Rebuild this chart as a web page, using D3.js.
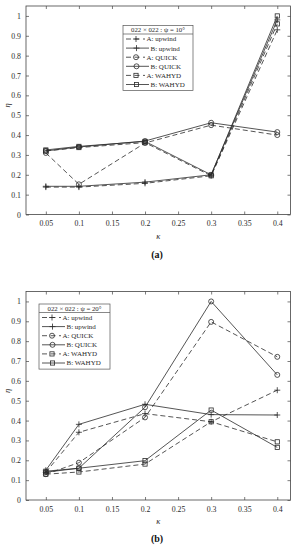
<!DOCTYPE html>
<html><head><meta charset="utf-8">
<script src="https://cdn.jsdelivr.net/npm/d3@7"></script>
<style>body{margin:0;background:#fff}svg{display:block}</style>
</head><body>
<svg id="c" width="297" height="550"></svg>
<script>
const kappa = [0.05, 0.1, 0.2, 0.3, 0.4];
const xTicks = [0.05, 0.1, 0.15, 0.2, 0.25, 0.3, 0.35, 0.4];
const yTicks = [0, 0.1, 0.2, 0.3, 0.4, 0.5, 0.6, 0.7, 0.8, 0.9, 1];
const seriesNames = ["A: upwind", "B: upwind", "A: QUICK", "B: QUICK", "A: WAHYD", "B: WAHYD"];
const seriesMarkers = ["plus", "plus", "circle", "circle", "square", "square"];
const seriesDashed = [true, false, true, false, true, false];

// panel (a): psi = 10°
const a_upA = [0.138, 0.138, 0.157, 0.195, 0.93];
const a_upB = [0.142, 0.142, 0.163, 0.2, 0.98];
const a_quA = [0.31, 0.152, 0.36, 0.45, 0.40];
const a_quB = [0.32, 0.34, 0.37, 0.462, 0.415];
const a_waA = [0.32, 0.337, 0.362, 0.195, 0.96];
const a_waB = [0.325, 0.343, 0.368, 0.2, 1.0];

// panel (b): psi = 20°
const b_upA = [0.14, 0.341, 0.435, 0.394, 0.553];
const b_upB = [0.15, 0.381, 0.482, 0.43, 0.428];
const b_quA = [0.13, 0.188, 0.416, 0.897, 0.721];
const b_quB = [0.14, 0.16, 0.467, 1.0, 0.63];
const b_waA = [0.13, 0.141, 0.181, 0.394, 0.293];
const b_waB = [0.145, 0.16, 0.198, 0.453, 0.265];

const titleA = "022 × 022 : ψ = 10°";
const titleB = "022 × 022 : ψ = 20°";

const svg = d3.select("#c");
const FONT = "'Liberation Serif','DejaVu Serif',serif";
const INK = "#2a2a2a";

function drawPanel(cfg) {
  const g = svg.append("g");
  const x = d3.scaleLinear().domain([0.02, 0.42]).range([cfg.left, cfg.right]);
  const y = d3.scaleLinear().domain([0, 1.05]).range([cfg.bottom, cfg.top]);

  g.append("rect").attr("x", cfg.left).attr("y", cfg.top)
    .attr("width", cfg.right - cfg.left).attr("height", cfg.bottom - cfg.top)
    .attr("fill", "none").attr("stroke", "#444").attr("stroke-width", 0.8);

  const fmt = d => d === 0 ? "0" : d === 1 ? "1" : String(d);
  const xb = d3.axisBottom(x).tickValues(xTicks).tickSize(-3).tickPadding(6).tickFormat(fmt);
  const xt = d3.axisTop(x).tickValues(xTicks).tickSize(-3).tickFormat("");
  const yl = d3.axisLeft(y).tickValues(yTicks).tickSize(-3).tickPadding(5).tickFormat(fmt);
  const yr = d3.axisRight(y).tickValues(yTicks).tickSize(-3).tickFormat("");
  const axes = [
    g.append("g").attr("transform", `translate(0,${cfg.bottom})`).call(xb),
    g.append("g").attr("transform", `translate(0,${cfg.top})`).call(xt),
    g.append("g").attr("transform", `translate(${cfg.left},0)`).call(yl),
    g.append("g").attr("transform", `translate(${cfg.right},0)`).call(yr)
  ];
  axes.forEach(a => {
    a.select(".domain").remove();
    a.selectAll("line").attr("stroke", "#444").attr("stroke-width", 0.7);
    a.selectAll("text").attr("font-family", FONT).attr("font-size", 7.8).attr("fill", INK);
  });

  g.append("text").attr("x", (cfg.left + cfg.right) / 2).attr("y", cfg.bottom + 24)
    .attr("text-anchor", "middle").attr("font-family", FONT).attr("font-style", "italic")
    .attr("font-size", 8.5).attr("fill", INK).text("κ");
  g.append("text").attr("transform", `translate(10,${y(0.55)}) rotate(-90)`)
    .attr("text-anchor", "middle").attr("font-family", FONT).attr("font-style", "italic")
    .attr("font-size", 8.5).attr("fill", INK).text("η");
  g.append("text").attr("x", 157).attr("y", cfg.capY)
    .attr("text-anchor", "middle").attr("font-family", FONT).attr("font-weight", "bold")
    .attr("font-size", 10).attr("fill", "#111").text(cfg.caption);

  const line = d3.line().x((d, i) => x(kappa[i])).y(d => y(d));
  cfg.data.forEach((vals, si) => {
    g.append("path").attr("d", line(vals)).attr("fill", "none")
      .attr("stroke", INK).attr("stroke-width", 0.8)
      .attr("stroke-dasharray", seriesDashed[si] ? "5,3" : null);
    vals.forEach((v, i) => drawMarker(g, seriesMarkers[si], x(kappa[i]), y(v)));
  });

  const L = cfg.legend;
  const rowH = 9.1;
  const lg = g.append("g");
  const h = 8.5 + rowH * 6 + 2;
  lg.append("rect").attr("x", L.x).attr("y", L.y).attr("width", L.w).attr("height", h)
    .attr("fill", "#fff").attr("stroke", "#555").attr("stroke-width", 0.7);
  lg.append("line").attr("x1", L.x).attr("x2", L.x + L.w).attr("y1", L.y + 8.5).attr("y2", L.y + 8.5)
    .attr("stroke", "#555").attr("stroke-width", 0.7);
  lg.append("text").attr("x", L.x + L.w / 2).attr("y", L.y + 6.5).attr("text-anchor", "middle")
    .attr("font-family", FONT).attr("font-size", 6.8).attr("fill", INK).text(cfg.title);
  seriesNames.forEach((name, si) => {
    const cy = L.y + 8.5 + rowH * (si + 0.55);
    const x0 = L.x + 3;
    const x1 = seriesDashed[si] ? x0 + 19 : x0 + 23;
    lg.append("line").attr("x1", x0).attr("x2", x1).attr("y1", cy).attr("y2", cy)
      .attr("stroke", INK).attr("stroke-width", 0.8)
      .attr("stroke-dasharray", seriesDashed[si] ? "5,3.5" : null);
    drawMarker(lg, seriesMarkers[si], (x0 + x1) / 2 + (seriesDashed[si] ? 0.5 : -1), cy);
    lg.append("text").attr("x", x1 + 1.5).attr("y", cy + 2.4)
      .attr("font-family", FONT).attr("font-size", 7).attr("fill", INK).text(name);
  });
}

function drawMarker(g, type, cx, cy) {
  if (type === "plus") {
    g.append("path").attr("d", `M${cx - 3},${cy}H${cx + 3}M${cx},${cy - 3}V${cy + 3}`)
      .attr("stroke", INK).attr("stroke-width", 0.8).attr("fill", "none");
  } else if (type === "circle") {
    g.append("circle").attr("cx", cx).attr("cy", cy).attr("r", 2.5)
      .attr("fill", "none").attr("stroke", INK).attr("stroke-width", 0.8);
  } else {
    g.append("rect").attr("x", cx - 2.1).attr("y", cy - 2.1).attr("width", 4.2).attr("height", 4.2)
      .attr("fill", "none").attr("stroke", INK).attr("stroke-width", 0.8);
  }
}

drawPanel({ left: 26, right: 290.5, top: 6, bottom: 214.5, caption: "(a)", capY: 258,
  data: [a_upA, a_upB, a_quA, a_quB, a_waA, a_waB], title: titleA,
  legend: { x: 123, y: 25.5, w: 70 } });
drawPanel({ left: 26, right: 290.5, top: 291.5, bottom: 500, caption: "(b)", capY: 542,
  data: [b_upA, b_upB, b_quA, b_quB, b_waA, b_waB], title: titleB,
  legend: { x: 39, y: 304, w: 71 } });
</script>
</body></html>
